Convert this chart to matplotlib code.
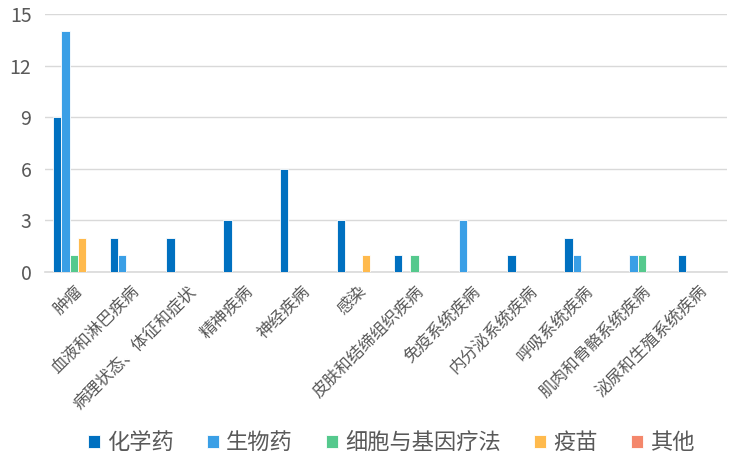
import numpy as np
import matplotlib
matplotlib.use("Agg")
import matplotlib.pyplot as plt

plt.rcParams["font.family"] = ["Noto Sans CJK SC", "DejaVu Sans"]
plt.rcParams["axes.unicode_minus"] = False

categories = ["肿瘤", "血液和淋巴疾病", "病理状态、体征和症状", "精神疾病", "神经疾病", "感染",
              "皮肤和结缔组织疾病", "免疫系统疾病", "内分泌系统疾病", "呼吸系统疾病",
              "肌肉和骨骼系统疾病", "泌尿和生殖系统疾病"]
series = ["化学药", "生物药", "细胞与基因疗法", "疫苗", "其他"]
chem = [9, 2, 2, 3, 6, 3, 1, 0, 1, 2, 0, 1]
bio = [14, 1, 0, 0, 0, 0, 0, 3, 0, 1, 1, 0]
cell = [1, 0, 0, 0, 0, 0, 1, 0, 0, 0, 1, 0]
vaccine = [2, 0, 0, 0, 0, 1, 0, 0, 0, 0, 0, 0]
other = [0, 0, 0, 0, 0, 0, 0, 0, 0, 0, 0, 0]
colors = ["#0070C0", "#3A9FE6", "#55C98D", "#FFBA4D", "#F4876B"]
yticks = [0, 3, 6, 9, 12, 15]

fig = plt.figure(figsize=(7.55, 4.72), dpi=100)
ax = fig.add_axes([0.060, 0.424, 0.903, 0.546])

x = np.arange(len(categories))
w = 0.147
for i, (vals, name, c) in enumerate(zip([chem, bio, cell, vaccine, other], series, colors)):
    ax.bar(x + (i - 2) * w, vals, w, color=c, edgecolor="white", linewidth=0.6,
           label=name, zorder=3)

ax.set_xlim(-0.5, len(categories) - 0.5)
ax.set_ylim(0, 15)
ax.set_yticks(yticks)
ax.grid(axis="y", color="#D9D9D9", lw=1.0, zorder=0)
ax.set_axisbelow(True)
for sp in ("top", "right", "left"):
    ax.spines[sp].set_visible(False)
ax.spines["bottom"].set_color("#D9D9D9")
ax.spines["bottom"].set_linewidth(1.2)
ax.tick_params(length=0, colors="#595959")
ax.tick_params(axis="y", labelsize=14, pad=10)
ax.set_xticks(x)
ax.set_xticklabels(categories, rotation=45, ha="right", rotation_mode="anchor",
                   fontsize=12, color="#595959")
ax.tick_params(axis="x", pad=8)

fig.legend(loc="center", bbox_to_anchor=(0.518, 0.062), ncol=5, frameon=False,
           fontsize=16, handlelength=0.55, handleheight=0.55, handletextpad=0.3,
           columnspacing=1.5, labelcolor="#595959")

fig.savefig("out.png", dpi=100, facecolor="white")
